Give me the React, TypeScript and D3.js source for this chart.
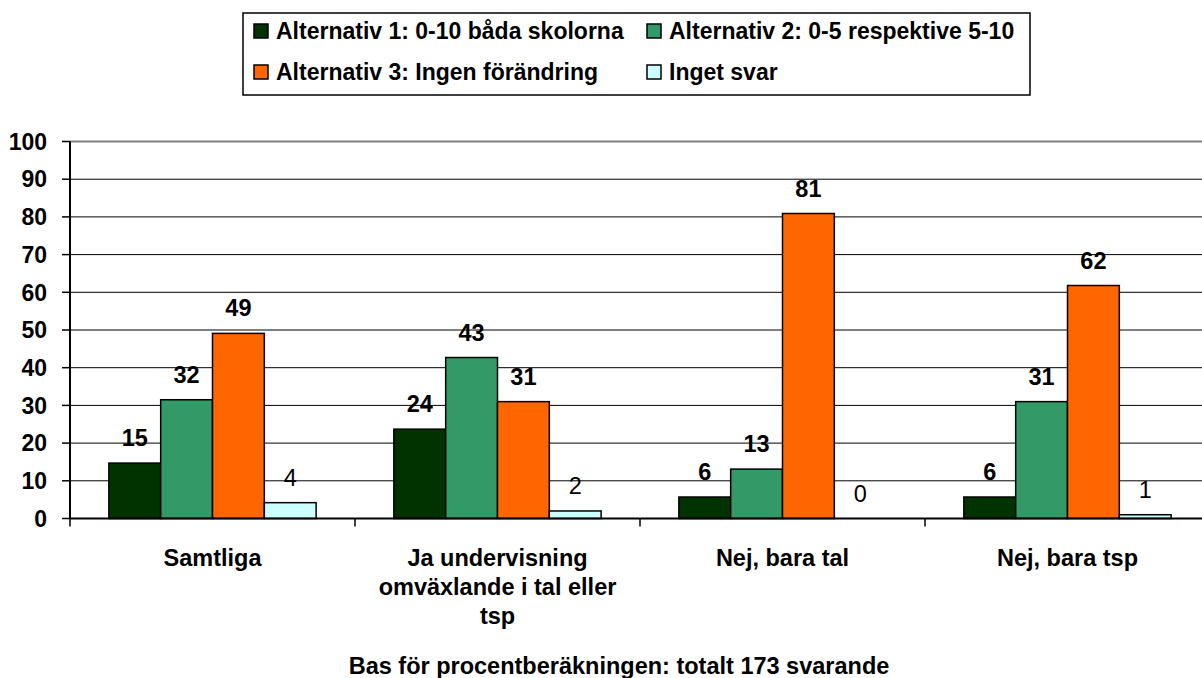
import React from "react";
import * as d3 from "d3";

const WIDTH = 1202;
const HEIGHT = 678;
const MARGIN = { top: 141.5, left: 70, right: -8, bottom: 159.5 };
const FONT = "'Liberation Sans', Arial, sans-serif";

const categories = [
  ["Samtliga"],
  ["Ja undervisning", "omväxlande i tal eller", "tsp"],
  ["Nej, bara tal"],
  ["Nej, bara tsp"],
];
const seriesNames = [
  "Alternativ 1: 0-10 båda skolorna",
  "Alternativ 2: 0-5 respektive 5-10",
  "Alternativ 3: Ingen förändring",
  "Inget svar",
];
const colors = ["#003300", "#339966", "#FF6600", "#CCFFFF"];
const alt1 = [14.7, 23.7, 5.7, 5.7];
const alt2 = [31.5, 42.7, 13.1, 31.0];
const alt3 = [49.1, 31.0, 80.9, 61.8];
const ingetSvar = [4.2, 2.0, 0, 1.0];
const yTicks = [0, 10, 20, 30, 40, 50, 60, 70, 80, 90, 100];
const footer = "Bas för procentberäkningen: totalt 173 svarande";

const seriesValues = [alt1, alt2, alt3, ingetSvar];

export default function App() {
  const catKeys = categories.map((c, i) => String(i));
  const x0 = d3
    .scaleBand()
    .domain(catKeys)
    .range([MARGIN.left, WIDTH - MARGIN.right]);
  const x1 = d3
    .scaleBand()
    .domain(seriesNames)
    .range([0, x0.bandwidth()])
    .paddingOuter(0.75);
  const y = d3
    .scaleLinear()
    .domain([0, 100])
    .range([HEIGHT - MARGIN.bottom, MARGIN.top]);

  const plotRight = WIDTH - MARGIN.right;
  const y0 = y(0);

  return (
    <svg
      width={WIDTH}
      height={HEIGHT}
      style={{ position: "absolute", left: 0, top: 0, background: "#fff" }}
      fontFamily={FONT}
    >
      {/* legend */}
      <rect x={243} y={13} width={787} height={82} fill="#fff" stroke="#000" strokeWidth={1.5} />
      {seriesNames.map((name, i) => {
        const col = i % 2;
        const row = Math.floor(i / 2);
        const sx = col === 0 ? 254 : 647;
        const cy = row === 0 ? 31 : 72;
        return (
          <g key={name}>
            <rect x={sx} y={cy - 7} width={14} height={14} fill={colors[i]} stroke="#000" strokeWidth={1.5} />
            <text x={sx + 22} y={cy + 8} fontSize={23} fontWeight="bold">
              {name}
            </text>
          </g>
        );
      })}

      {/* gridlines */}
      {yTicks.map(t => (
        <line
          key={t}
          x1={MARGIN.left}
          x2={plotRight}
          y1={y(t)}
          y2={y(t)}
          stroke={t === 100 ? "#808080" : "#000"}
          strokeWidth={t === 100 ? 2 : 1}
        />
      ))}

      {/* bars */}
      {catKeys.map((k, ci) => (
        <g key={k} transform={`translate(${x0(k)},0)`}>
          {seriesNames.map((s, si) => {
            const v = seriesValues[si][ci];
            return (
              <rect
                key={s}
                x={x1(s)}
                y={y(v)}
                width={x1.bandwidth()}
                height={y0 - y(v)}
                fill={colors[si]}
                stroke="#000"
                strokeWidth={1.5}
              />
            );
          })}
          {seriesNames.map((s, si) => {
            const v = seriesValues[si][ci];
            return (
              <text
                key={s + "l"}
                x={x1(s) + x1.bandwidth() / 2}
                y={y(v) - 17}
                textAnchor="middle"
                fontSize={23.5}
                fontWeight={si === 3 ? "normal" : "bold"}
              >
                {Math.round(v)}
              </text>
            );
          })}
        </g>
      ))}

      {/* y axis */}
      <line x1={MARGIN.left} x2={MARGIN.left} y1={MARGIN.top} y2={y0} stroke="#000" strokeWidth={2} />
      {yTicks.map(t => (
        <g key={t}>
          <line x1={MARGIN.left - 8} x2={MARGIN.left} y1={y(t)} y2={y(t)} stroke="#000" strokeWidth={1.5} />
          <text x={47} y={y(t)} dy="0.36em" textAnchor="end" fontSize={23} fontWeight="bold">
            {t}
          </text>
        </g>
      ))}

      {/* x axis */}
      <line x1={MARGIN.left} x2={plotRight} y1={y0} y2={y0} stroke="#000" strokeWidth={2} />
      {catKeys.map(k => (
        <line key={k} x1={x0(k)} x2={x0(k)} y1={y0} y2={y0 + 8} stroke="#000" strokeWidth={1.5} />
      ))}
      {catKeys.map((k, ci) => (
        <text
          key={k}
          x={x0(k) + x0.bandwidth() / 2}
          y={566}
          textAnchor="middle"
          fontSize={23.5}
          fontWeight="bold"
        >
          {categories[ci].map((line, li) => (
            <tspan key={li} x={x0(k) + x0.bandwidth() / 2} dy={li === 0 ? 0 : 29}>
              {line}
            </tspan>
          ))}
        </text>
      ))}

      <text x={619} y={674} textAnchor="middle" fontSize={23.5} fontWeight="bold">
        {footer}
      </text>
    </svg>
  );
}
